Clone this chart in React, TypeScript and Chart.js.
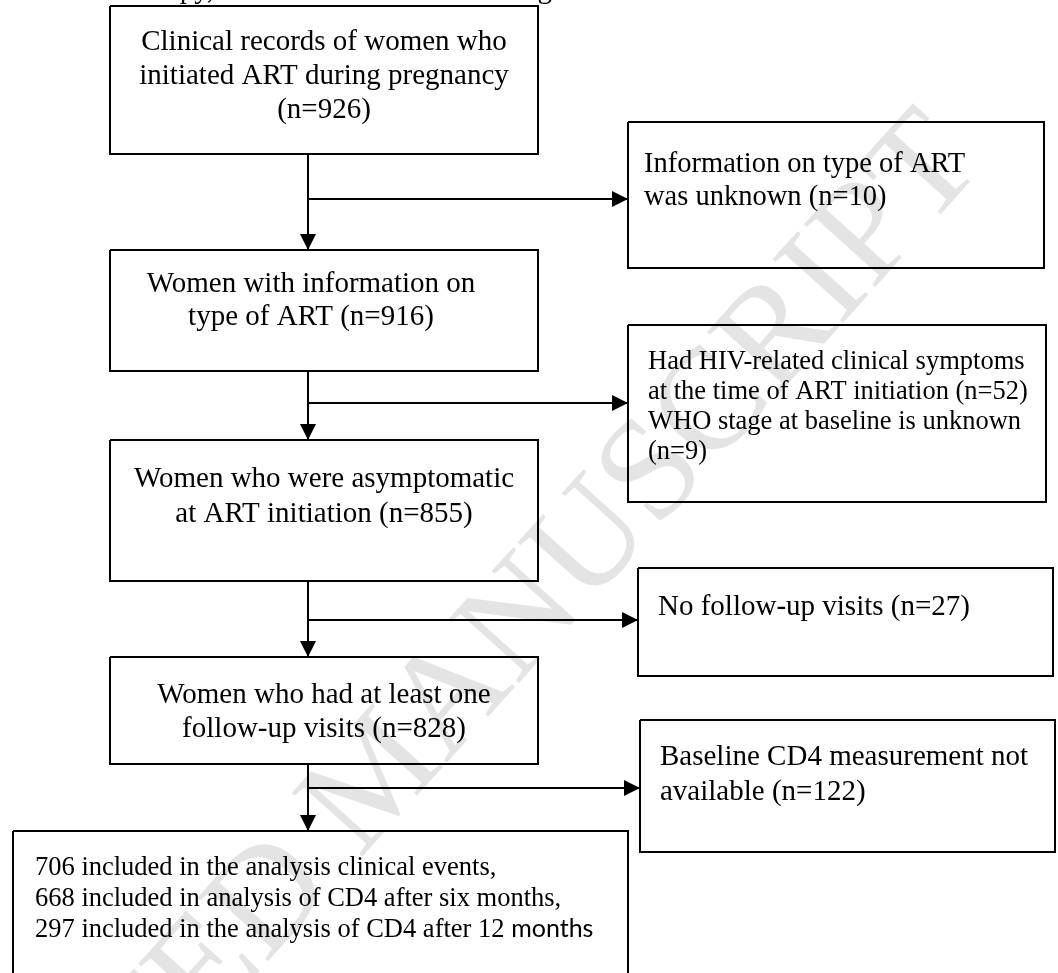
import React, { useEffect, useRef } from "react";
import { Chart, registerables } from "chart.js";

Chart.register(...registerables);

// ---- content ----
const mainTexts: string[][] = [
  ["Clinical records of women who", "initiated ART during pregnancy", "(n=926)"],
  ["Women with information on", "type of ART (n=916)"],
  ["Women who were asymptomatic", "at ART initiation (n=855)"],
  ["Women who had at least one", "follow-up visits (n=828)"],
];
const excludedTexts: string[][] = [
  ["Information on type of ART", "was unknown (n=10)"],
  [
    "Had HIV-related clinical symptoms",
    "at the time of ART initiation (n=52)",
    "WHO stage at baseline is unknown",
    "(n=9)",
  ],
  ["No follow-up visits (n=27)"],
  ["Baseline CD4 measurement not", "available (n=122)"],
];
const finalTexts: string[] = [
  "706 included in the analysis clinical events,",
  "668 included in analysis of CD4 after six months,",
  "297 included in the analysis of CD4 after 12 ",
];
const finalTail = "months";
const topFragments: string[] = ["therapy,", "following"];
const watermark = "ACCEPTED MANUSCRIPT";

// ---- geometry (page units, y downward) ----
const mainBoxes: number[][] = [
  [110, 6, 538, 154],
  [110, 250, 538, 371],
  [110, 440, 538, 581],
  [110, 657, 538, 764],
];
const excludedBoxes: number[][] = [
  [628, 122, 1044, 268],
  [628, 325, 1046, 502],
  [638, 568, 1053, 676],
  [640, 720, 1055, 852],
];
const finalBox: number[] = [13, 831, 628, 990];
const trunkX = 308;
const branchY: number[] = [199, 403, 620, 788];
const downTargets: number[] = [250, 440, 657, 831];

const mainTextX: number[] = [324, 311, 324, 324];
const mainBaselines: number[] = [50, 292, 487, 703];
const mainLineH: number[] = [34, 33, 35, 34];
const exTextX: number[] = [644, 648, 658, 660];
const exBaselines: number[] = [172, 369, 615, 765];
const exLineH: number[] = [33, 30, 33, 35];
const exFont: number[] = [28.5, 26.5, 29, 29];

const SERIF = "'Liberation Serif', 'Times New Roman', serif";

function rectPts(b: number[]) {
  const [l, t, r, bt] = b;
  return [
    { x: l, y: t },
    { x: r, y: t },
    { x: r, y: bt },
    { x: l, y: bt },
    { x: l, y: t },
  ];
}

export default function App() {
  const ref = useRef<HTMLCanvasElement | null>(null);

  useEffect(() => {
    if (!ref.current) return;

    const arrows: { from: number[]; to: number[] }[] = [];
    const prevBottoms = [mainBoxes[0][3], mainBoxes[1][3], mainBoxes[2][3], mainBoxes[3][3]];
    for (let i = 0; i < 4; i++) {
      arrows.push({ from: [trunkX, prevBottoms[i]], to: [trunkX, downTargets[i]] });
      arrows.push({ from: [trunkX, branchY[i]], to: [excludedBoxes[i][0], branchY[i]] });
    }

    const lineDs = (data: any[]) => ({
      type: "line" as const,
      data,
      showLine: true,
      borderColor: "#000",
      borderWidth: 2,
      pointRadius: 0,
      tension: 0,
      fill: false,
      borderJoinStyle: "miter" as const,
      clip: false as any,
    });

    const datasets: any[] = [];
    [...mainBoxes, ...excludedBoxes, finalBox].forEach((b) => datasets.push(lineDs(rectPts(b))));
    arrows.forEach((a) =>
      datasets.push(lineDs([{ x: a.from[0], y: a.from[1] }, { x: a.to[0], y: a.to[1] }]))
    );

    const flowPlugin = {
      id: "flow",
      beforeDatasetsDraw(chart: any) {
        const ctx = chart.ctx;
        const X = (v: number) => chart.scales.x.getPixelForValue(v);
        const Y = (v: number) => chart.scales.y.getPixelForValue(v);
        ctx.save();
        ctx.translate(X(985), Y(165));
        ctx.rotate((-48 * Math.PI) / 180);
        ctx.font = `145px ${SERIF}`;
        ctx.fillStyle = "#e4e4e4";
        ctx.textAlign = "right";
        ctx.textBaseline = "alphabetic";
        ctx.fillText(watermark, 0, 0);
        ctx.restore();
      },
      afterDatasetsDraw(chart: any) {
        const ctx = chart.ctx;
        const X = (v: number) => chart.scales.x.getPixelForValue(v);
        const Y = (v: number) => chart.scales.y.getPixelForValue(v);
        ctx.save();
        // arrowheads
        ctx.fillStyle = "#000";
        arrows.forEach((a) => {
          const tx = X(a.to[0]);
          const ty = Y(a.to[1]);
          const dx = a.to[0] - a.from[0];
          const dy = a.to[1] - a.from[1];
          const len = Math.hypot(dx, dy);
          const ux = dx / len;
          const uy = dy / len;
          const L = 16;
          const W = 8;
          ctx.beginPath();
          ctx.moveTo(tx, ty);
          ctx.lineTo(tx - ux * L - uy * W, ty - uy * L + ux * W);
          ctx.lineTo(tx - ux * L + uy * W, ty - uy * L - ux * W);
          ctx.closePath();
          ctx.fill();
        });
        // texts
        ctx.textBaseline = "alphabetic";
        ctx.fillStyle = "#000";
        ctx.font = `29px ${SERIF}`;
        ctx.textAlign = "center";
        mainTexts.forEach((lines, i) => {
          lines.forEach((s, j) => {
            ctx.fillText(s, X(mainTextX[i]), Y(mainBaselines[i] + j * mainLineH[i]));
          });
        });
        ctx.textAlign = "left";
        excludedTexts.forEach((lines, i) => {
          ctx.font = `${exFont[i]}px ${SERIF}`;
          lines.forEach((s, j) => {
            ctx.fillText(s, X(exTextX[i]), Y(exBaselines[i] + j * exLineH[i]));
          });
        });
        ctx.font = `26.5px ${SERIF}`;
        finalTexts.forEach((s, j) => {
          ctx.fillText(s, X(35), Y(875 + j * 31));
        });
        const w = ctx.measureText(finalTexts[2]).width;
        ctx.font = `25px Lato, 'Open Sans', sans-serif`;
        ctx.fillText(finalTail, X(35) + w, Y(875 + 2 * 31));
        // cut-off running text at the very top
        ctx.font = `29px ${SERIF}`;
        ctx.textAlign = "right";
        ctx.fillText(topFragments[0], X(214), Y(-2));
        ctx.fillText(topFragments[1], X(552), Y(-2));
        ctx.restore();
      },
    };

    const chart = new Chart(ref.current, {
      type: "scatter",
      data: { datasets },
      options: {
        animation: false,
        responsive: false,
        maintainAspectRatio: false,
        layout: { padding: 0 },
        plugins: { legend: { display: false }, tooltip: { enabled: false } },
        events: [],
        scales: {
          x: { type: "linear", min: 0, max: 1058, display: false },
          y: { type: "linear", min: 0, max: 973, reverse: true, display: false },
        },
      },
      plugins: [flowPlugin],
    });
    return () => chart.destroy();
  }, []);

  return (
    <div style={{ position: "absolute", left: 0, top: 0, width: 1058, height: 973, background: "#fff" }}>
      <canvas ref={ref} width={1058} height={973} style={{ display: "block" }} />
    </div>
  );
}
